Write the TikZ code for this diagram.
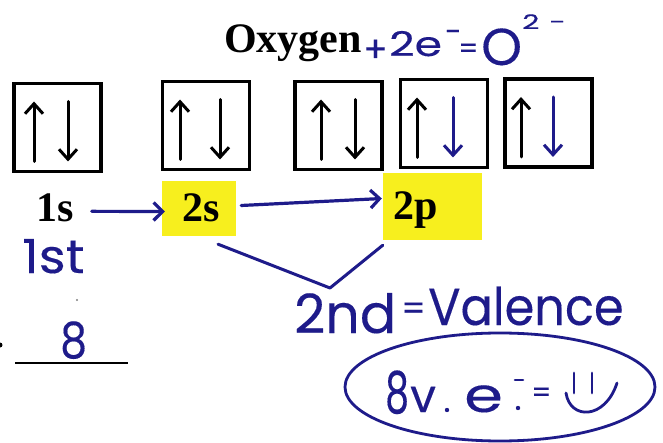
\documentclass[tikz,border=0pt]{standalone}
\usepackage{fontspec}
\usepackage{graphicx}
\setmainfont{Liberation Serif}
\newfontfamily\hand[FakeBold=0.25]{Poppins}
\usetikzlibrary{arrows.meta,calc}
\definecolor{ink}{HTML}{1E1B8A}
\definecolor{hilite}{HTML}{F7EF1E}
\newcommand{\hsz}[1]{\hand\fontsize{#1}{#1}\selectfont}
\begin{document}
\begin{tikzpicture}[x=1pt,y=-1pt,
  obox/.style={draw, line width=3.4pt, minimum width=87pt, minimum height=88pt, inner sep=0pt},
  spin/.style={line width=3pt, line cap=round, -{Straight Barb[length=10pt,width=18pt]}},
  conn/.style={ink, line width=3.2pt, line cap=round, -{Straight Barb[length=9pt,width=18pt]}},
  tlabel/.style={font=\fontsize{42}{42}\selectfont\bfseries, inner sep=0pt, anchor=base west},
  hw/.style={text=ink, font=\hsz{40}, inner sep=0pt, anchor=base west},
  hl/.style={fill=hilite, inner sep=0pt}]
\useasboundingbox (0,0) rectangle (663,443);
\fill[white] (0,0) rectangle (663,443);

% title
\node[tlabel] (oxy) at (224,53) {Oxygen};
\node[hw, font=\hsz{36}] (plus) at (363,62) {+};
\node[hw, font=\hsz{34}] (two) at (389,56) {\scalebox{1.3}[1]{2e}};
\node[hw, font=\hsz{30}] (minus) at (445,42) {-};
\node[hw, font=\hsz{28}] (eq) at (458,58) {=};
\node[hw, font=\hsz{52}] (ion) at (481,65) {O};
\node[hw, font=\hsz{20}] (charge) at (522,29) {\scalebox{1.5}[1]{2}\kern10pt\scalebox{1.5}[1]{-}};

% orbital boxes
\node[obox] (b1) at (57.5,127.5) {};
\node[obox] (b2) at (206,125.5) {};
\node[obox] (b3) at (338.5,125.5) {};
\node[obox] (b4) at (444,123.5) {};
\node[obox] (b5) at (548.5,123) {};
\foreach \b/\u/\d/\c in {b1/-23.5/10.5/black, b2/-26/14/black, b3/-17.5/16.5/black, b4/-27/9/ink, b5/-27.5/4.5/ink}{
  \draw[spin] ($(\b.center)+(\u,34)$) -- ($(\b.center)+(\u,-26)$);
  \draw[spin, \c] ($(\b.center)+(\d,-26)$) -- ($(\b.center)+(\d,34)$);
}

% sublevel labels
\node[tlabel] (s1) at (36,222) {1s};
\node[hl, minimum width=74pt, minimum height=55pt] (hl2s) at (199,208.5) {};
\node[tlabel] (s2) at (182,222) {2s};
\node[hl, minimum width=99pt, minimum height=67pt] (hl2p) at (432.5,206.5) {};
\node[tlabel] (p2) at (393,220) {2p};

\draw[conn] ([xshift=18pt,yshift=-3pt]s1.east) -- ([xshift=3pt,yshift=-3pt]hl2s.west);
\draw[conn] ([xshift=5pt,yshift=3pt]hl2s.east) -- ([xshift=-1pt,yshift=8pt]hl2p.west);

% valence bracket
\coordinate (vtip) at (330,288);
\draw[ink, line width=3pt, line cap=round, line join=round]
  ($(hl2s.south)+(19,8)$) -- (vtip) -- ($(hl2p.south west)+(0,5)$);

% handwritten notes
\node[hw, font=\hsz{47}] (first) at (22,273) {\scalebox{1.1}[1]{1st}};
\fill[gray] (77,300) circle (1.2pt);
\fill[black] (0,345) circle (2.5pt);
\node[hw, font=\hsz{50}] (eight) at (60,358) {\scalebox{0.85}[1]{8}};
\coordinate (ula) at (15,363);
\coordinate (ulb) at (128,363);
\draw[line width=2.2pt] (ula) -- (ulb);

\node[hw, font=\hsz{54}] (second) at (294,333) {2nd};
\node[hw, font=\hsz{34}] (eq2) at (401,320) {=};
\node[hw, font=\hsz{52}] (valence) at (428,325) {\scalebox{0.92}[1]{Valence}};

% circled note
\draw[ink, line width=2.8pt] (500,387) ellipse [x radius=155pt, y radius=54pt];
\node[hw, font=\hsz{58}] (ve8) at (385,413) {\scalebox{0.65}[1]{8}};
\node[hw, font=\hsz{46}] (vv) at (410,412) {v};
\fill[ink] (447,410) circle (2.2pt);
\node[hw, font=\hsz{48}] (ve) at (464,412) {\scalebox{1.3}[1]{e}};
\coordinate (dasha) at (515,380);
\coordinate (dashb) at (523,380);
\draw[ink, line width=2.6pt, line cap=round] (dasha) -- (dashb);
\fill[ink] (518,408) circle (2.2pt);
\node[hw, font=\hsz{28}] (eq3) at (531,402) {=};
\draw[ink, line width=2.8pt, line cap=round] (574,373) -- (574,393);
\draw[ink, line width=2.8pt, line cap=round] (592,373) -- (592,393);
\draw[ink, line width=2.8pt, line cap=round] (566,393) .. controls (570,420) and (605,420) .. (617,383);
\end{tikzpicture}
\end{document}
